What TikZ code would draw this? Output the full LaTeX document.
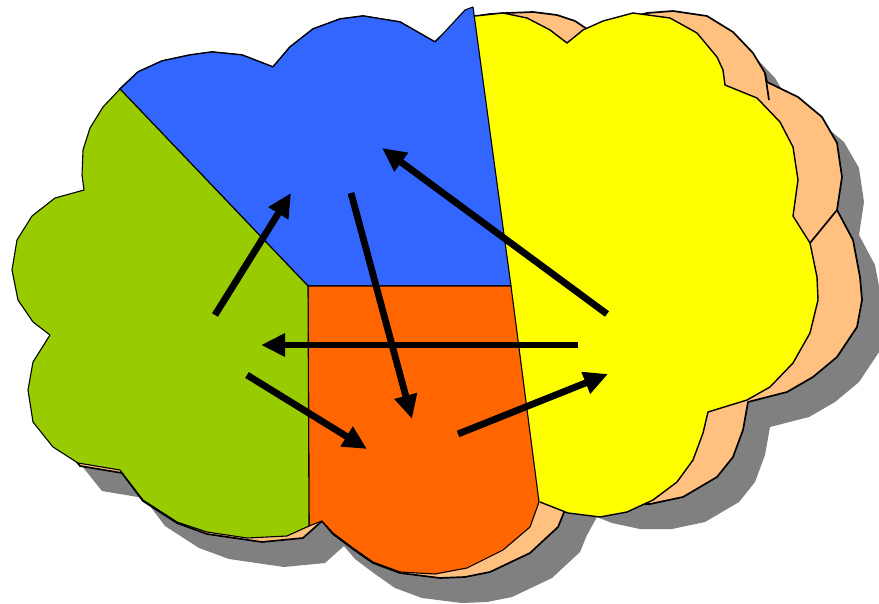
\documentclass[tikz,border=0pt]{standalone}
\usetikzlibrary{arrows.meta}
\definecolor{cgreen}{HTML}{99CC00}
\definecolor{cblue}{HTML}{3366FF}
\definecolor{corange}{HTML}{FF6600}
\definecolor{cyellow}{HTML}{FFFF00}
\definecolor{cpeach}{HTML}{FFC080}
\definecolor{cshadow}{HTML}{808080}
\tikzset{
  region/.style={draw=black, line width=1.1pt, line join=round},
  flow/.style={line width=6.8pt, -{Triangle[length=24pt,width=22pt]}},
  peachshape/.pic={
    \path[pic actions] (120,89) -- (138,72) -- (162,61) -- (190,55) -- (212,52) -- (242,55) -- (273,67) -- (290,47) -- (313,29) -- (340,19) -- (363,16) -- (400,22) -- (435,42) -- (440,37) -- (465,18) -- (490,14) -- (507,13) -- (533,12) -- (557,15) -- (575,21) -- (587,29) -- (610,24) -- (647,13) -- (673,11) -- (707,16) -- (733,32) -- (753,53) -- (765,73) -- (767,82) -- (798,97) -- (822,117) -- (837,143) -- (842,177) -- (837,210) -- (853,240) -- (860,277) -- (862,300) -- (857,327) -- (837,357) -- (813,377) -- (787,392) -- (748,402) -- (743,430) -- (733,457) -- (717,477) -- (683,497) -- (650,504) -- (618,504) -- (590,498) -- (575,492) -- (565,510) -- (558,527) -- (530,553) -- (490,572) -- (465,577) -- (440,578) -- (400,573) -- (373,563) -- (353,549) -- (333,534) -- (322,521) -- (303,538) -- (262,542) -- (207,534) -- (177,523) -- (143,501) -- (122,473) -- (80,466) -- (56,436) -- (45,412) -- (40,390) -- (45,362) -- (55,335) -- (40,318) -- (25,300) -- (20,270) -- (25,240) -- (40,220) -- (60,205) -- (88,195) -- (88,175) -- (90,150) -- (97,128) -- (108,108) -- cycle;
  }
}
\begin{document}
\begin{tikzpicture}[x=1pt,y=-1pt]
\useasboundingbox (0,0) rectangle (879,603);
\clip (0,0) rectangle (879,603);
% shadow and back cloud
\pic[fill=cshadow] at (22,25) {peachshape};
\pic[fill=cpeach, draw=black, line width=1.7pt, line join=round] at (0,0) {peachshape};
\draw[line width=1.7pt] (765,73) -- (769,100);
\draw[line width=1.7pt] (837,210) -- (810,243);
% yellow region
\fill[cyellow] (475,16) -- (503,13) -- (527,18) -- (550,30) -- (567,43) -- (583,30) -- (603,21) -- (633,13) -- (670,18) -- (697,33) -- (717,57) -- (723,70) -- (725,85) -- (757,98) -- (780,122) -- (793,147) -- (798,180) -- (793,216) -- (810,243) -- (817,277) -- (818,300) -- (810,333) -- (793,363) -- (770,387) -- (747,400) -- (708,412) -- (703,433) -- (693,460) -- (677,482) -- (653,500) -- (627,512) -- (600,517) -- (568,513) -- (540,502) -- cycle;
\draw[region, line width=1.4pt] (475,16) -- (503,13) -- (527,18) -- (550,30) -- (567,43) -- (583,30) -- (603,21) -- (633,13) -- (670,18) -- (697,33) -- (717,57) -- (723,70) -- (725,85) -- (757,98) -- (780,122) -- (793,147) -- (798,180) -- (793,216) -- (810,243) -- (817,277) -- (818,300) -- (810,333) -- (793,363) -- (770,387) -- (747,400) -- (708,412) -- (703,433) -- (693,460) -- (677,482) -- (653,500) -- (627,512) -- (600,517) -- (568,513) -- (540,502);
% blue region
\path[region, fill=cblue] (120,89) -- (138,72) -- (162,61) -- (190,55) -- (212,52) -- (242,55) -- (273,67) -- (290,47) -- (313,29) -- (340,19) -- (363,16) -- (400,22) -- (435,42) -- (440,37) -- (465,10) -- (473,7) -- (511,286) -- (308,286) -- cycle;
% orange region
\path[region, fill=corange] (308,286) -- (511,286) -- (539,502) -- (530,527) -- (503,550) -- (467,568) -- (435,574) -- (400,572) -- (373,562) -- (353,548) -- (333,533) -- (322,521) -- (309,526) -- cycle;
% green region
\path[region, fill=cgreen] (120,89) -- (308,286) -- (309,526) -- (287,536) -- (247,538) -- (207,532) -- (177,522) -- (143,500) -- (120,470) -- (78,463) -- (53,447) -- (33,422) -- (28,390) -- (33,362) -- (50,335) -- (33,322) -- (18,300) -- (12,270) -- (17,240) -- (32,216) -- (55,198) -- (84,190) -- (82,175) -- (83,150) -- (90,128) -- (103,107) -- cycle;
% arrow end points
\coordinate (gA) at (215,315);
\coordinate (bA) at (291,193);
\coordinate (bB) at (351,193);
\coordinate (oB) at (412,419);
\coordinate (yC) at (607,314);
\coordinate (bC) at (382,148);
\coordinate (yD) at (578,345);
\coordinate (gD) at (261,345);
\coordinate (gE) at (247,375);
\coordinate (oE) at (367,449);
\coordinate (oF) at (458,434);
\coordinate (yF) at (608,374);
% arrows
\draw[flow] (gA) -- (bA);
\draw[flow] (bB) -- (oB);
\draw[flow] (yC) -- (bC);
\draw[flow] (yD) -- (gD);
\draw[flow] (gE) -- (oE);
\draw[flow] (oF) -- (yF);
\end{tikzpicture}
\end{document}
